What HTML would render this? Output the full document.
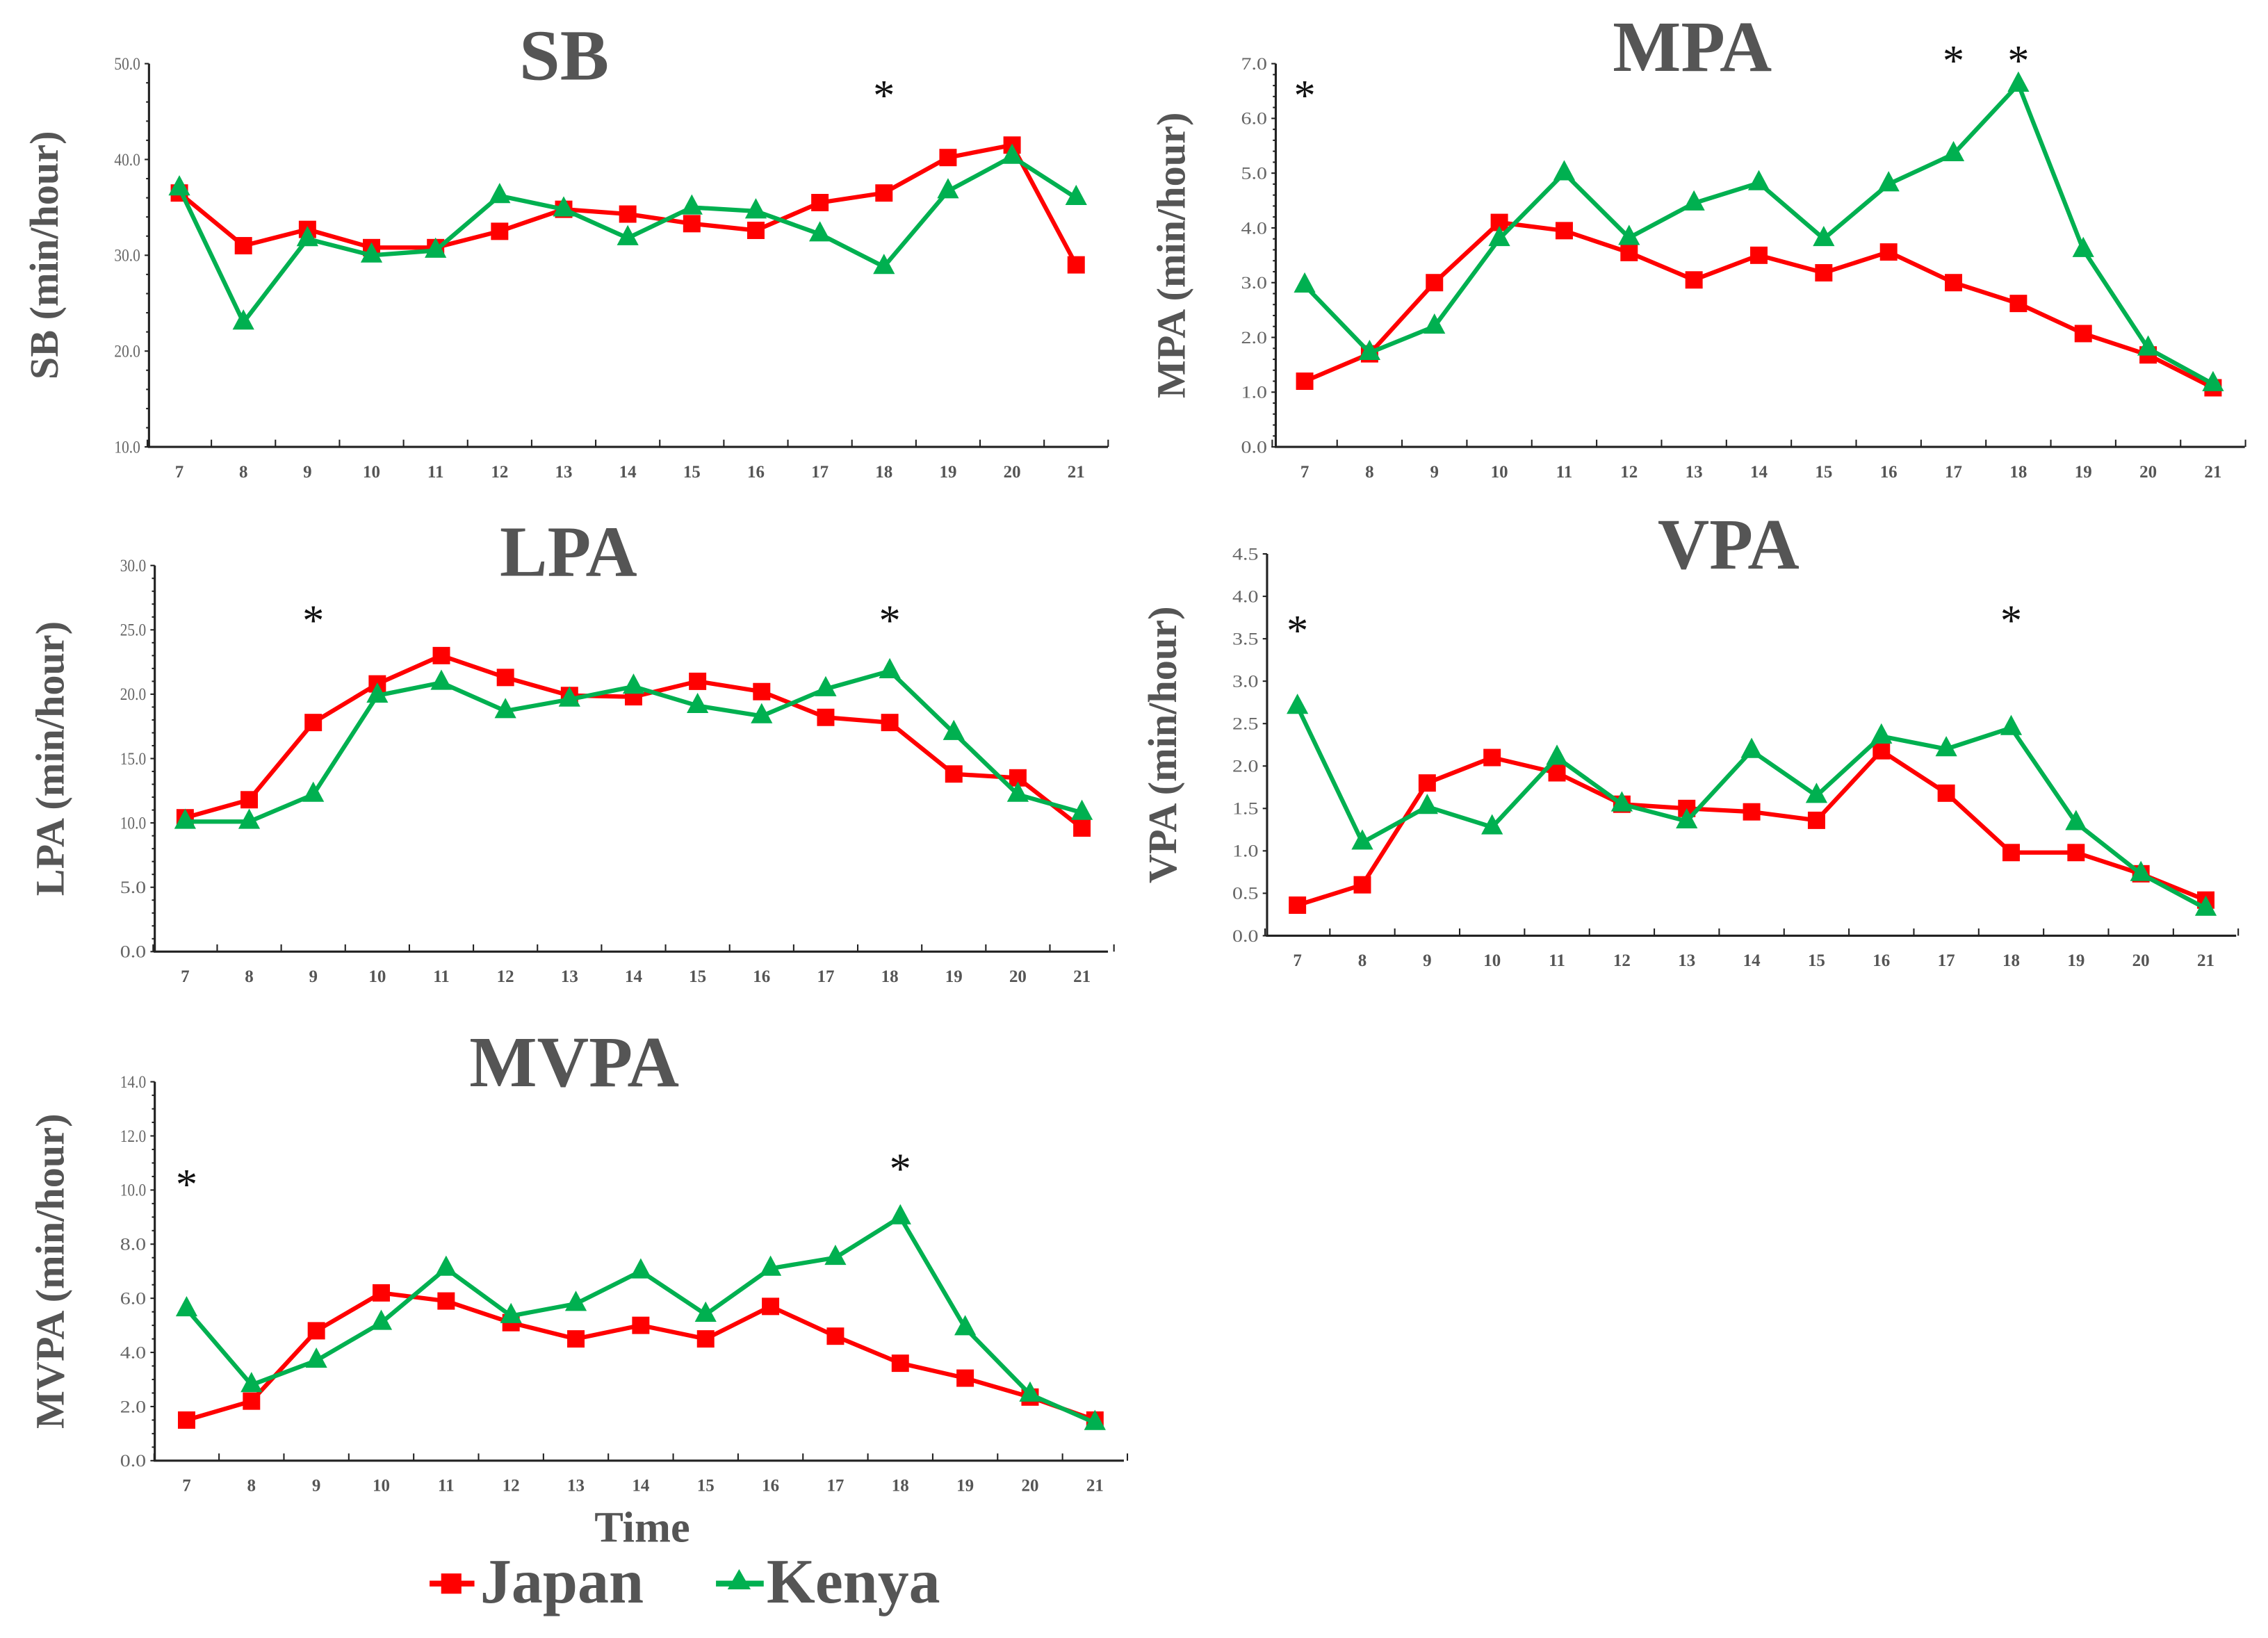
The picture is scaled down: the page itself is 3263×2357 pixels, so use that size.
<!DOCTYPE html>
<html><head><meta charset="utf-8"><style>
html,body{margin:0;padding:0;background:#fff;}
svg{display:block;}
</style></head><body>
<svg id="fig" width="3263" height="2357" viewBox="0 0 1568 1132.6" xmlns="http://www.w3.org/2000/svg" font-family="'Liberation Serif', serif"></svg>
<script>
const hours = [7,8,9,10,11,12,13,14,15,16,17,18,19,20,21];
const sbJapan = [36.5,31,32.7,30.8,30.8,32.5,34.8,34.3,33.3,32.6,35.5,36.5,40.2,41.5,29];
const sbKenya = [37,23,31.7,30,30.5,36.2,34.8,31.8,35,34.6,32.2,28.8,36.7,40.3,36];
const mpaJapan = [1.2,1.7,3.0,4.1,3.95,3.55,3.05,3.5,3.18,3.56,3.0,2.62,2.07,1.68,1.08];
const mpaKenya = [2.95,1.72,2.2,3.8,5.0,3.82,4.45,4.82,3.8,4.8,5.35,6.62,3.6,1.8,1.15];
const lpaJapan = [10.4,11.8,17.8,20.8,23,21.3,19.9,19.8,21,20.2,18.2,17.8,13.8,13.5,9.6];
const lpaKenya = [10.1,10.1,12.2,19.9,20.9,18.7,19.6,20.6,19.1,18.3,20.4,21.8,17,12.2,10.8];
const vpaJapan = [0.36,0.6,1.8,2.1,1.92,1.55,1.5,1.46,1.36,2.18,1.68,0.98,0.98,0.73,0.42];
const vpaKenya = [2.7,1.1,1.52,1.28,2.1,1.55,1.35,2.18,1.65,2.35,2.2,2.45,1.33,0.73,0.32];
const mvpaJapan = [1.5,2.2,4.8,6.2,5.9,5.1,4.5,5,4.5,5.7,4.6,3.6,3.05,2.35,1.5];
const mvpaKenya = [5.6,2.8,3.7,5.1,7.1,5.35,5.8,7,5.4,7.1,7.5,9,4.9,2.45,1.4];
const sbTicks = [10,20,30,40,50];
const mpaTicks = [0,1,2,3,4,5,6,7];
const lpaTicks = [0,5,10,15,20,25,30];
const vpaTicks = [0,0.5,1,1.5,2,2.5,3,3.5,4,4.5];
const mvpaTicks = [0,2,4,6,8,10,12,14];
const sbStars = [18];
const mpaStars = [7,17,18];
const lpaStars = [9,18];
const vpaStars = [7,18];
const mvpaStars = [7,18];

const NS = "http://www.w3.org/2000/svg";
const svg = document.getElementById('fig');
function mk(tag, attrs, parent, text){
  const e = document.createElementNS(NS, tag);
  for (const k in attrs) e.setAttribute(k, attrs[k]);
  if (text !== undefined) e.textContent = text;
  (parent||svg).appendChild(e);
  return e;
}

const panels = [
 {key:'sb', title:'SB', ylab:'SB (min/hour)', ax:103, top:44, bot:309, x0:124, x1:744, xend:766, min:10, max:50, ticks:sbTicks, minor:5, jp:sbJapan, ke:sbKenya, stars:sbStars, starY:[66], tx:390, ty:55, tw:62, lx:31},
 {key:'mpa', title:'MPA', ylab:'MPA (min/hour)', ax:882, top:44, bot:309, x0:902, x1:1530, xend:1552, min:0, max:7, ticks:mpaTicks, minor:5, jp:mpaJapan, ke:mpaKenya, stars:mpaStars, starY:[66,42,42], tx:1170, ty:49, tw:110, lx:810},
 {key:'lpa', title:'LPA', ylab:'LPA (min/hour)', ax:107, top:391, bot:658, x0:128, x1:748, xend:766, min:0, max:30, ticks:lpaTicks, minor:5, jp:lpaJapan, ke:lpaKenya, stars:lpaStars, starY:[429,429], tx:393, ty:398, tw:95, lx:35},
 {key:'vpa', title:'VPA', ylab:'VPA (min/hour)', ax:876, top:383, bot:647, x0:897, x1:1525, xend:1546, min:0, max:4.5, ticks:vpaTicks, minor:1, jp:vpaJapan, ke:vpaKenya, stars:vpaStars, starY:[436,429], tx:1195, ty:393, tw:98, lx:804},
 {key:'mvpa', title:'MVPA', ylab:'MVPA (min/hour)', ax:107, top:748, bot:1010, x0:129, x1:757, xend:777, min:0, max:14, ticks:mvpaTicks, minor:4, jp:mvpaJapan, ke:mvpaKenya, stars:mvpaStars, starY:[819,808], tx:397, ty:751, tw:145, lx:35}
];

function drawSeries(g, p, vals, color, marker, name){
  const xs = i => p.x0 + (p.x1-p.x0)*(hours[i]-hours[0])/(hours[hours.length-1]-hours[0]);
  const ys = v => p.bot - (v-p.min)/(p.max-p.min)*(p.bot-p.top);
  const pts = vals.map((v,i)=>xs(i).toFixed(1)+','+ys(v).toFixed(1)).join(' ');
  const line = mk('polyline',{points:pts,fill:'none',stroke:color,'stroke-width':3,'stroke-linejoin':'round'},g);
  
  
  vals.forEach((v,i)=>{
    const x=xs(i), y=ys(v);
    let m;
    if (marker==='sq') m = mk('rect',{x:x-6,y:y-6,width:12,height:12,fill:color},g);
    else m = mk('polygon',{points:`${x},${y-9} ${x-7.5},${y+5} ${x+7.5},${y+5}`,fill:color},g);
    
    
  });
}

panels.forEach(p=>{
  const g = mk('g',{});
  
  
  const ys = v => p.bot - (v-p.min)/(p.max-p.min)*(p.bot-p.top);
  const xs = h => p.x0 + (p.x1-p.x0)*(h-hours[0])/(hours[hours.length-1]-hours[0]);
  const t = mk('text',{x:p.tx,y:p.ty,'text-anchor':'middle','font-size':50,'font-weight':'bold',fill:'#555',textLength:p.tw,lengthAdjust:'spacingAndGlyphs'},g,p.title);
  
  
  const yl = mk('text',{x:0,y:0,transform:`translate(${p.lx+9},${(p.top+p.bot)/2}) rotate(-90)`,'text-anchor':'middle','font-size':28,'font-weight':'bold',fill:'#555'},g,p.ylab);
  
  
  const axes = mk('path',{d:`M${p.ax},${p.top} V${p.bot} H${p.xend}`,fill:'none',stroke:'#222','stroke-width':1.5},g);
  
  
  const step = p.ticks[1]-p.ticks[0];
  for (let k=0;k<p.ticks.length;k++){
    const v=p.ticks[k];
    const lab = mk('text',{x:p.ax-6,y:ys(v)+4,'text-anchor':'end','font-size':12,fill:'#666',textLength:18,lengthAdjust:'spacingAndGlyphs'},g,v.toFixed(1));
    
    
    mk('line',{x1:p.ax-3,x2:p.ax,y1:ys(v),y2:ys(v),stroke:'#222','stroke-width':1},g);
    if (k<p.ticks.length-1){
      for (let j=1;j<p.minor;j++){
        const mv=v+step*j/p.minor;
        mk('line',{x1:p.ax-2,x2:p.ax,y1:ys(mv),y2:ys(mv),stroke:'#222','stroke-width':1},g);
      }
    }
  }
  const half=(p.x1-p.x0)/28;
  for (let i=0;i<=hours.length;i++){
    const x=p.x0-half+i*2*half;
    mk('line',{x1:x,x2:x,y1:p.bot,y2:p.bot-5,stroke:'#222','stroke-width':1},g);
  }
  hours.forEach(h=>{
    const lab=mk('text',{x:xs(h),y:p.bot+21,'text-anchor':'middle','font-size':12,'font-weight':'bold',fill:'#555'},g,String(h));
    
    
  });
  drawSeries(g,p,p.jp,'#ff0000','sq','japan');
  drawSeries(g,p,p.ke,'#00b050','tri','kenya');
  p.stars.forEach((h,i)=>{
    const s=mk('text',{x:xs(h),y:p.starY[i]+10,'text-anchor':'middle','font-size':30,fill:'#111'},g,'*');
    
    
  });
});

const time = mk('text',{x:444,y:1066,'text-anchor':'middle','font-size':30,'font-weight':'bold',fill:'#555'},svg,'Time');


const lg = mk('g',{});


const l1 = mk('g',{},lg);


mk('line',{x1:297,x2:328,y1:1095,y2:1095,stroke:'#ff0000','stroke-width':4},l1);
mk('rect',{x:305,y:1088,width:14,height:14,fill:'#ff0000'},l1);
mk('text',{x:332,y:1108,'font-size':44,'font-weight':'bold',fill:'#555',textLength:113,lengthAdjust:'spacingAndGlyphs'},l1,'Japan');
const l2 = mk('g',{},lg);


mk('line',{x1:495,x2:528,y1:1095,y2:1095,stroke:'#00b050','stroke-width':4},l2);
mk('polygon',{points:'511,1085 503,1099 519,1099',fill:'#00b050'},l2);
mk('text',{x:530,y:1108,'font-size':44,'font-weight':'bold',fill:'#555',textLength:120,lengthAdjust:'spacingAndGlyphs'},l2,'Kenya');
</script>
</body></html>
